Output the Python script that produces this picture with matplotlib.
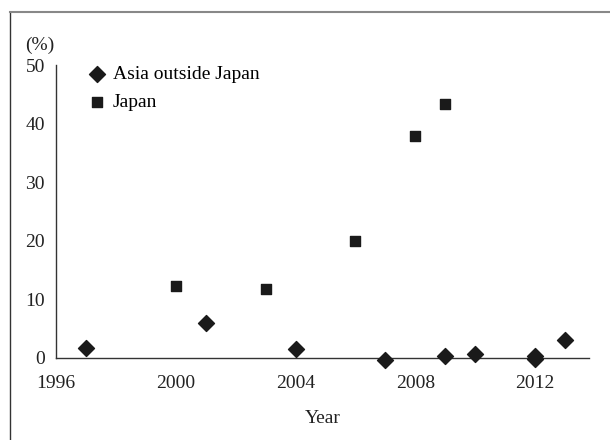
import matplotlib
matplotlib.use("Agg")
import matplotlib.pyplot as plt
from matplotlib.lines import Line2D

plt.rcParams['font.family'] = ['Liberation Serif', 'DejaVu Serif']

asia_years = [1997, 2001, 2004, 2007, 2009, 2010, 2012, 2012, 2013]
asia_values = [1.7, 5.9, 1.5, -0.3, 0.4, 0.6, 0.4, -0.2, 3.1]
japan_years = [2000, 2003, 2006, 2008, 2009]
japan_values = [12.3, 11.8, 20.0, 37.8, 43.3]
x_ticks = [1996, 2000, 2004, 2008, 2012]
y_ticks = [0, 10, 20, 30, 40, 50]

fig = plt.figure(figsize=(6.10, 4.40), dpi=100)
ax = fig.add_axes([56/610, 1-358/440, (589-56)/610, (358-65)/440])

c = '#1a1a1a'
ax.scatter(asia_years, asia_values, marker='D', s=66, color=c, label='Asia outside Japan', zorder=3, clip_on=False)
ax.scatter(japan_years, japan_values, marker='s', s=62, color=c, label='Japan', zorder=3, clip_on=False)

ax.set_xlim(1996, 2013.8)
ax.set_ylim(0, 50)
ax.set_xticks(x_ticks)
ax.set_yticks(y_ticks)
for s in ['top', 'right']:
    ax.spines[s].set_visible(False)
ax.spines['left'].set_color('#333333')
ax.spines['bottom'].set_color('#333333')
ax.spines['left'].set_linewidth(1.0)
ax.spines['bottom'].set_linewidth(1.0)
ax.tick_params(length=0, labelsize=14, colors='#222222')
ax.tick_params(axis='x', pad=12.5)
ax.tick_params(axis='y', pad=8)
ax.set_xlabel('Year', fontsize=14, color='#222222', labelpad=13)
fig.text(25/610, 1-45/440, '(%)', fontsize=14, color='#222222', ha='left', va='center')

leg = ax.legend(loc='upper left', bbox_to_anchor=(0.045, 1.025), frameon=False,
                fontsize=14, handletextpad=0.3, labelspacing=0.52,
                handlelength=1.0, borderaxespad=0)

# figure frame lines (left and top)
fig.add_artist(Line2D([10/610, 10/610], [0, 1-12/440], transform=fig.transFigure, color='#333333', lw=1.0))
fig.add_artist(Line2D([10/610, 1], [1-12/440, 1-12/440], transform=fig.transFigure, color='#888888', lw=1.5))

fig.savefig('out.png', dpi=100)
